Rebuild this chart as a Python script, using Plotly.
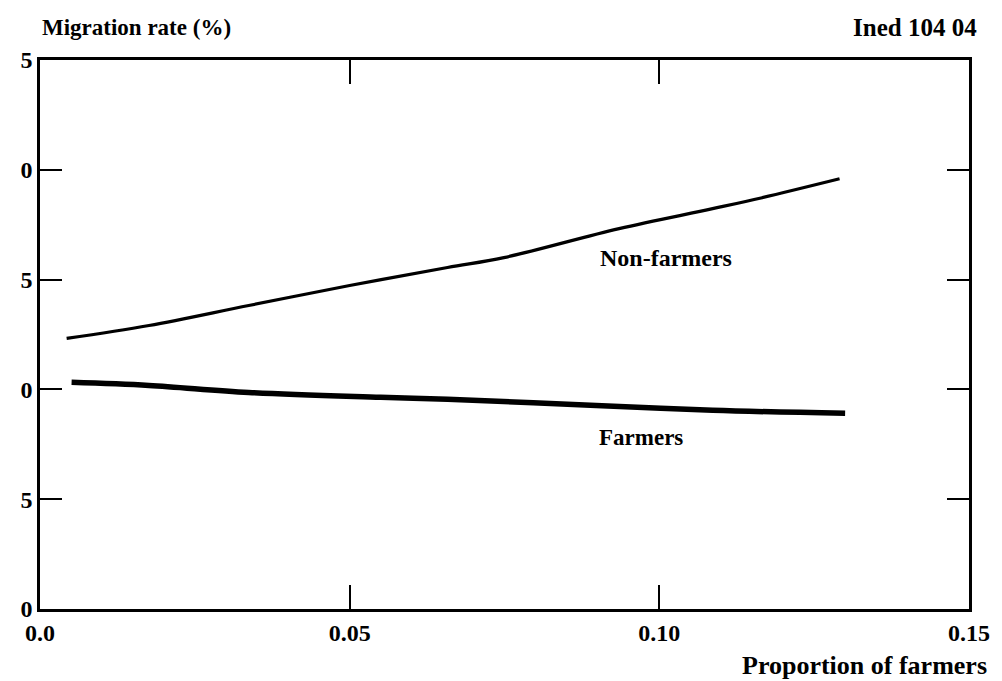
import plotly.graph_objects as go

# Data
nonfarm_x = [0.0043, 0.0176, 0.0337, 0.0500, 0.0658, 0.0749, 0.0935, 0.1086, 0.1166, 0.1291]
nonfarm_y = [12.32, 12.91, 13.82, 14.73, 15.55, 16.00, 17.32, 18.23, 18.73, 19.59]
farm_x = [0.0051, 0.0176, 0.0337, 0.0550, 0.0658, 0.0898, 0.1086, 0.1300]
farm_y = [10.32, 10.18, 9.86, 9.64, 9.55, 9.27, 9.05, 8.91]

x_tickvals = [0, 0.05, 0.10, 0.15]
x_ticktext = ["0.0", "0.05", "0.10", "0.15"]
y_tickvals = [0, 5, 10, 15, 20, 25]
y_ticktext = ["0", "5", "0", "5", "0", "5"]

SERIF = "Liberation Serif, Times New Roman, serif"
PW = 933.0   # plot width in px
PH = 549.0   # plot height in px

fig = go.Figure()
fig.add_trace(go.Scatter(x=nonfarm_x, y=nonfarm_y, mode="lines",
                         line=dict(color="black", width=3.2, shape="spline"),
                         showlegend=False, hoverinfo="skip"))
fig.add_trace(go.Scatter(x=farm_x, y=farm_y, mode="lines",
                         line=dict(color="black", width=5.5, shape="spline"),
                         showlegend=False, hoverinfo="skip"))

fig.update_layout(
    width=994, height=673,
    margin=dict(l=32, r=29, t=52, b=72),
    plot_bgcolor="white", paper_bgcolor="white",
    font=dict(family=SERIF, color="black", size=22),
    xaxis=dict(range=[0, 0.15], tickvals=x_tickvals, ticktext=x_ticktext,
               showgrid=False, zeroline=False, showline=True, linecolor="black",
               linewidth=2.5, mirror="ticks", ticks="inside", ticklen=24,
               tickwidth=2, tickcolor="black",
               tickfont=dict(family=SERIF, size=24, weight="bold")),
    yaxis=dict(range=[0, 25], tickvals=y_tickvals, ticktext=y_ticktext,
               showgrid=False, zeroline=False, showline=True, linecolor="black",
               linewidth=2.5, mirror="ticks", ticks="inside", ticklen=22,
               tickwidth=2, tickcolor="black",
               tickfont=dict(family=SERIF, size=24, weight="bold")),
    annotations=[
        dict(text="Migration rate (%)", xref="paper", yref="paper", x=0, y=1.0,
             xanchor="left", yanchor="middle", yshift=33, showarrow=False,
             font=dict(family=SERIF, size=23, weight="bold")),
        dict(text="Ined 104 04", xref="paper", yref="paper", x=1 + 10 / PW, y=1.0,
             xanchor="right", yanchor="middle", yshift=33, showarrow=False,
             font=dict(family=SERIF, size=25, weight="bold")),
        dict(text="Proportion of farmers", xref="paper", yref="paper", x=1 + 20 / PW, y=0,
             xanchor="right", yanchor="middle", yshift=-56, showarrow=False,
             font=dict(family=SERIF, size=26, weight="bold")),
        dict(text="Non-farmers", x=0.1011, y=16.0, xref="x", yref="y",
             showarrow=False, font=dict(family=SERIF, size=24, weight="bold")),
        dict(text="Farmers", x=0.0971, y=7.8, xref="x", yref="y",
             showarrow=False, font=dict(family=SERIF, size=23, weight="bold")),
    ],
)

fig.write_html("out.html")
